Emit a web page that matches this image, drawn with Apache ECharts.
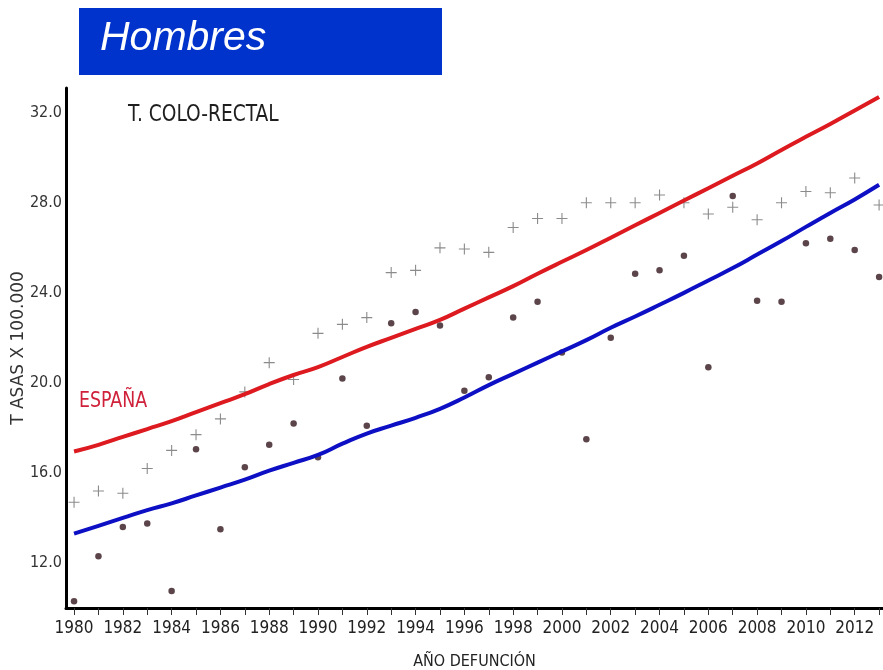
<!DOCTYPE html>
<html>
<head>
<meta charset="utf-8">
<script src="https://cdn.jsdelivr.net/npm/echarts@6/dist/echarts.min.js"></script>
<style>
html,body{margin:0;padding:0;background:#fff;}
#chart{width:883px;height:670px;}
</style>
</head>
<body>
<div id="chart"></div>
<script>
// ---- data ----
var years = [1980,1981,1982,1983,1984,1985,1986,1987,1988,1989,1990,1991,1992,1993,1994,1995,1996,1997,1998,1999,2000,2001,2002,2003,2004,2005,2006,2007,2008,2009,2010,2011,2012,2013];
var espanaRates = [14.7,15.2,15.1,16.2,17.0,17.7,18.4,19.6,20.9,20.15,22.2,22.6,22.9,24.9,25.0,26.0,25.95,25.8,26.9,27.3,27.3,28.0,28.0,28.0,28.35,28.0,27.5,27.8,27.25,28.0,28.5,28.45,29.1,27.9];
var provinciaRates = [10.3,12.3,13.6,13.75,10.75,17.05,13.5,16.25,17.25,18.2,16.7,20.2,18.1,22.65,23.15,22.55,19.65,20.25,22.9,23.6,21.35,17.5,22.0,24.85,25.0,25.65,20.7,28.3,23.65,23.6,26.2,26.4,25.9,24.7];
var espanaTrend = [16.95,17.25,17.6,17.95,18.3,18.7,19.1,19.5,19.95,20.35,20.7,21.15,21.6,22.0,22.4,22.8,23.3,23.8,24.3,24.85,25.38,25.9,26.45,27.0,27.55,28.1,28.65,29.2,29.75,30.35,30.93,31.5,32.1,32.7];
var provinciaTrend = [13.3,13.65,14.0,14.35,14.65,15.0,15.35,15.7,16.1,16.45,16.8,17.3,17.75,18.1,18.45,18.85,19.35,19.9,20.4,20.9,21.4,21.9,22.45,22.95,23.47,24.0,24.55,25.1,25.7,26.3,26.93,27.55,28.15,28.8];
var yTickValues = [12,16,20,24,28,32];
var xLabelValues = [1980,1982,1984,1986,1988,1990,1992,1994,1996,1998,2000,2002,2004,2006,2008,2010,2012];

function pairs(vals){ return years.map(function(y,i){ return [y, vals[i]]; }); }

var narrow = "'Liberation Sans Narrow','Arial Narrow','DejaVu Sans Condensed',sans-serif";

var chart = echarts.init(document.getElementById('chart'), null, {renderer:'canvas'});
chart.setOption({
  animation:false,
  backgroundColor:'#ffffff',
  grid:{left:66, right:0, top:88, bottom:62, containLabel:false, outerBoundsMode:'none'},
  xAxis:{
    type:'value', min:1979.67, max:2013.16,
    name:'AÑO DEFUNCIÓN', nameLocation:'middle', nameGap:46, nameMoveOverlap:false,
    nameTextStyle:{fontFamily:narrow, fontSize:16, color:'#222'},
    axisLine:{show:true, onZero:false, lineStyle:{color:'#000', width:3}},
    axisTick:{show:true, length:7, customValues:years, lineStyle:{color:'#333', width:1}},
    axisLabel:{customValues:xLabelValues, fontFamily:narrow, fontSize:17, color:'#222', margin:12,
      formatter:function(v){return String(v);}},
    splitLine:{show:false}
  },
  yAxis:{
    type:'value', min:10, max:33.1,
    name:'T ASAS X 100.000', nameLocation:'middle', nameRotate:90, nameGap:39, nameMoveOverlap:false,
    nameTextStyle:{fontFamily:'DejaVu Sans', fontSize:17, color:'#333'},
    axisLine:{show:true, lineStyle:{color:'#000', width:3}},
    axisTick:{show:false, customValues:yTickValues},
    axisLabel:{customValues:yTickValues, fontFamily:narrow, fontSize:16, color:'#333', margin:4,
      formatter:function(v){return v.toFixed(1);}},
    splitLine:{show:false}
  },
  graphic:[
    {type:'rect', left:79, top:8, shape:{width:363, height:67}, style:{fill:'#0033cc'}},
    {type:'text', left:100, top:18, style:{text:'Hombres', fill:'#ffffff', font:'italic 41px "Liberation Sans", Arial, sans-serif'}},
    {type:'text', x:128, y:104, scaleX:0.9, style:{text:'T. COLO-RECTAL', fill:'#1e1e1e', font:'23px ' + narrow}},
    {type:'text', x:79, y:391, scaleX:0.92, style:{text:'ESPAÑA', fill:'#d0213a', font:'21px ' + narrow}}
  ],
  series:[
    {type:'scatter', name:'España', data:pairs(espanaRates), symbol:'path://M4.5,0h1v10h-1z M0,4.5h10v1h-10z', symbolSize:11,
      itemStyle:{color:'#6e6e6e'}, z:2},
    {type:'scatter', name:'Provincia', data:pairs(provinciaRates), symbol:'circle', symbolSize:6.5,
      itemStyle:{color:'#33161d'}, z:2},
    {type:'line', name:'Tendencia España', data:pairs(espanaTrend), smooth:true, showSymbol:false,
      lineStyle:{color:'#dd1a1f', width:4}, z:3},
    {type:'line', name:'Tendencia provincia', data:pairs(provinciaTrend), smooth:true, showSymbol:false,
      lineStyle:{color:'#0d0fc4', width:4}, z:3}
  ]
});
</script>
</body>
</html>
